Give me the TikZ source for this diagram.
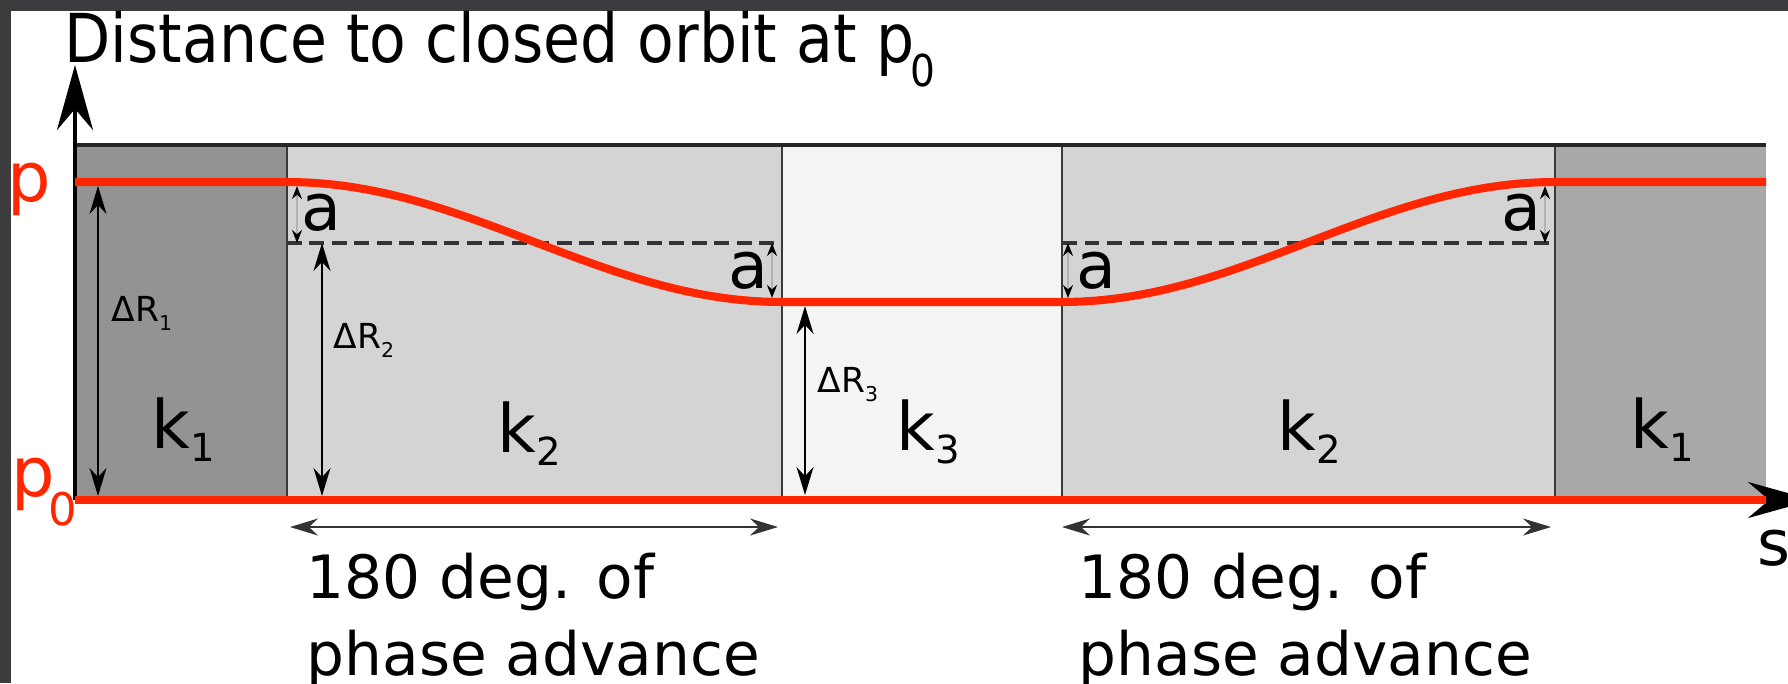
\documentclass[tikz,border=0pt]{standalone}
\usepackage{fontspec}
\setmainfont{DejaVu Sans}
\newfontfamily\titlefont[FakeStretch=0.89]{DejaVu Sans}
\usetikzlibrary{arrows.meta,positioning,calc}
\definecolor{orbitred}{HTML}{FF2600}
\definecolor{kone}{HTML}{939393}
\definecolor{konebis}{HTML}{A8A8A8}
\definecolor{ktwo}{HTML}{D4D4D4}
\definecolor{kthree}{HTML}{F4F4F4}
\definecolor{framegray}{HTML}{3C3C3E}
\definecolor{sepgray}{HTML}{3A3A3A}
\newcommand{\kval}[1]{k\raisebox{-3.7pt}{\fontsize{11}{11}\selectfont #1}}
\newcommand{\dRval}[1]{ΔR\raisebox{-2.8pt}{\fontsize{5.8}{6}\selectfont #1}}

\begin{document}
\begin{tikzpicture}[
  klabel/.style={anchor=base west, inner sep=0, font=\fontsize{19}{23}\selectfont},
  dRlabel/.style={anchor=base west, inner sep=0, font=\fontsize{9.8}{12}\selectfont},
  alabel/.style={anchor=base west, inner sep=0, font=\fontsize{18.5}{22}\selectfont},
  plabel/.style={anchor=base west, inner sep=0, orbitred, font=\fontsize{19.5}{23}\selectfont},
  phase/.style={anchor=north west, align=left, inner sep=0, font=\fontsize{17}{22}\selectfont},
  dimarr/.style={{Stealth[length=2.8mm,width=1.7mm]}-{Stealth[length=2.8mm,width=1.7mm]}, line width=0.6pt},
  aarr/.style={{Stealth[length=1.3mm,width=1mm,black]}-{Stealth[length=1.3mm,width=1mm,black]}, black!30, line width=0.5pt},
  axis/.style={-{Stealth[length=6.5mm,width=3.6mm]}, line width=1.1pt},
  orbit/.style={orbitred, line width=2.3pt},
  sepline/.style={sepgray, line width=0.6pt},
  levelline/.style={black!80, line width=1pt, dash pattern=on 4.2pt off 2.2pt}
]
  % frame of the screenshot
  \useasboundingbox (-0.75,-1.83) rectangle (17.13,5.00);
  \fill[framegray] (-0.75,-1.83) rectangle (17.13,5.00);
  \fill[white] (-0.64,-1.83) rectangle (17.13,4.89);

  % focusing regions
  \fill[kone] (0,0) rectangle (2.12,3.55);
  \fill[ktwo] (2.12,0) rectangle (7.07,3.55);
  \fill[kthree] (7.07,0) rectangle (9.87,3.55);
  \fill[ktwo] (9.87,0) rectangle (14.80,3.55);
  \fill[konebis] (14.80,0) rectangle (16.91,3.55);
  \foreach \xs in {2.12,7.07,9.87,14.80}
    \draw[sepline] (\xs,0) -- (\xs,3.55);
  \draw[black!85, line width=0.9pt] (0,3.55) -- (16.91,3.55);

  % dashed levels
  \draw[levelline] (2.12,2.57) -- (7.07,2.57);
  \draw[levelline] (9.87,2.57) -- (14.80,2.57);

  % axes
  \coordinate (O) at (0,0);
  \coordinate (ytip) at (0,4.35);
  \coordinate (stip) at (17.38,0);
  \draw[axis] (O) -- (ytip);
  \draw[axis] (O) -- (stip);

  % orbits
  \draw[orbit] (O) -- (16.91,0);
  \draw[orbit] (0,3.18) -- (2.12,3.18)
    -- plot[domain=0:180, samples=50] ({2.12+4.95*\x/180},{2.58+0.6*cos(\x)})
    -- (9.87,1.98)
    -- plot[domain=180:360, samples=50] ({9.87+4.93*(\x-180)/180},{2.58+0.6*cos(\x)})
    -- (16.91,3.18);

  % Delta R arrows
  \coordinate (r1t) at (0.23,3.14);
  \coordinate (r1b) at (0.23,0.04);
  \coordinate (r2t) at (2.47,2.57);
  \coordinate (r2b) at (2.47,0.04);
  \coordinate (r3t) at (7.30,1.94);
  \coordinate (r3b) at (7.30,0.05);
  \draw[dimarr] (r1t) -- (r1b);
  \draw[dimarr] (r2t) -- (r2b);
  \draw[dimarr] (r3t) -- (r3b);
  \node[dRlabel] (dr1) at (0.36,1.79) {\dRval{1}};
  \node[dRlabel] (dr2) at (2.58,1.52) {\dRval{2}};
  \node[dRlabel] (dr3) at (7.42,1.08) {\dRval{3}};

  % amplitude a
  \coordinate (a1t) at (2.22,3.14);
  \coordinate (a1b) at (2.22,2.57);
  \coordinate (a2t) at (6.97,2.57);
  \coordinate (a2b) at (6.97,2.02);
  \coordinate (a3t) at (9.93,2.57);
  \coordinate (a3b) at (9.93,2.02);
  \coordinate (a4t) at (14.70,3.14);
  \coordinate (a4b) at (14.70,2.57);
  \draw[aarr] (a1t) -- (a1b);
  \draw[aarr] (a2t) -- (a2b);
  \draw[aarr] (a3t) -- (a3b);
  \draw[aarr] (a4t) -- (a4b);
  \node[alabel] (la1) at (2.26,2.70) {a};
  \node[alabel] (la2) at (6.53,2.12) {a};
  \node[alabel] (la3) at (10.01,2.12) {a};
  \node[alabel] (la4) at (14.26,2.70) {a};

  % region labels
  \node[klabel] (k1a) at (0.76,0.52) {\kval{1}};
  \node[klabel] (k2a) at (4.22,0.48) {\kval{2}};
  \node[klabel] (k3) at (8.21,0.50) {\kval{3}};
  \node[klabel] (k2b) at (12.02,0.50) {\kval{2}};
  \node[klabel] (k1b) at (15.55,0.52) {\kval{1}};

  % phase advance
  \coordinate (ph1l) at (2.15,-0.27);
  \coordinate (ph1r) at (7.03,-0.27);
  \coordinate (ph2l) at (9.87,-0.27);
  \coordinate (ph2r) at (14.76,-0.27);
  \draw[dimarr, black!80] (ph1l) -- (ph1r);
  \draw[dimarr, black!80] (ph2l) -- (ph2r);
  \node[phase] (ph1) at (2.31,-0.52) {180 deg. of\\phase advance};
  \node[phase] (ph2) at (10.03,-0.52) {180 deg. of\\phase advance};

  % axis labels
  \node[anchor=base west, inner sep=0, font=\titlefont\fontsize{19.2}{23}\selectfont] (title) at (-0.11,4.38)
    {Distance to closed orbit at p\kern-1pt\raisebox{-7pt}{\fontsize{12.5}{13}\selectfont 0}};
  \node[plabel] (plab) at (-0.68,2.99) {p};
  \node[plabel] (p0lab) at (-0.64,0.04) {p\kern-2pt\raisebox{-8.5pt}{\fontsize{12.8}{13}\selectfont 0}};
  \node[anchor=base west, inner sep=0, font=\fontsize{18}{22}\selectfont] (slab) at (16.82,-0.65) {s};
\end{tikzpicture}
\end{document}
